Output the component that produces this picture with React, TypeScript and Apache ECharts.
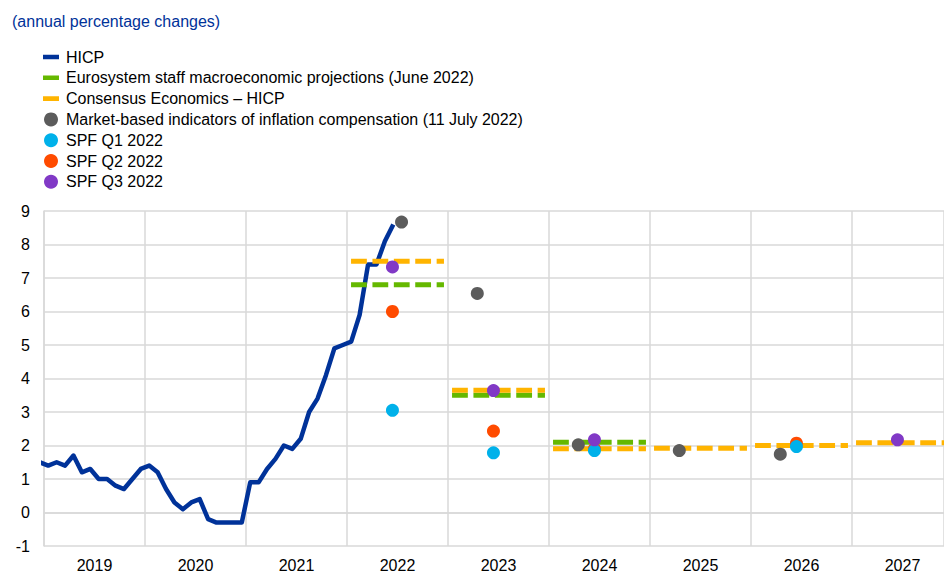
import React, { useEffect, useRef } from 'react';
import * as echarts from 'echarts';

const FONT = '"Liberation Sans", Arial, sans-serif';

const titleText = '(annual percentage changes)';

const seriesNames = [
  'HICP',
  'Eurosystem staff macroeconomic projections (June 2022)',
  'Consensus Economics – HICP',
  'Market-based indicators of inflation compensation (11 July 2022)',
  'SPF Q1 2022',
  'SPF Q2 2022',
  'SPF Q3 2022',
];

const colors = ['#003299', '#65b800', '#ffb400', '#5c5c5c', '#00b1ea', '#ff4b00', '#8139c6'];

// HICP monthly, Dec 2018 .. Jun 2022
const hicpFirstMonth = { year: 2018, month: 12 };
const hicpValues = [
  1.5,
  1.4, 1.5, 1.4, 1.7, 1.2, 1.3, 1.0, 1.0, 0.8, 0.7, 1.0, 1.3,
  1.4, 1.2, 0.7, 0.3, 0.1, 0.3, 0.4, -0.2, -0.3, -0.3, -0.3, -0.3,
  0.9, 0.9, 1.3, 1.6, 2.0, 1.9, 2.2, 3.0, 3.4, 4.1, 4.9, 5.0,
  5.1, 5.9, 7.4, 7.4, 8.1, 8.6,
];

// Eurosystem staff projections (June 2022)
const eurosystemYears = [2022, 2023, 2024];
const eurosystemValues = [6.8, 3.5, 2.1];

// Consensus Economics
const consensusYears = [2022, 2023, 2024, 2025, 2026, 2027];
const consensusValues = [7.5, 3.65, 1.9, 1.92, 2.0, 2.08];

// Market-based indicators (x in fractional years)
const marketDates = [2022.54, 2023.29, 2024.29, 2025.29, 2026.29];
const marketValues = [8.67, 6.54, 2.02, 1.85, 1.74];

// SPF rounds
const spfQ1Years = [2022, 2023, 2024, 2026];
const spfQ1Values = [3.05, 1.78, 1.85, 1.97];
const spfQ2Years = [2022, 2023, 2024, 2026];
const spfQ2Values = [6.0, 2.43, 1.9, 2.07];
const spfQ3Years = [2022, 2023, 2024, 2027];
const spfQ3Values = [7.33, 3.64, 2.17, 2.17];

const yearLabels = [2019, 2020, 2021, 2022, 2023, 2024, 2025, 2026, 2027];

const X_MIN = 2019;
const X_MAX = 2019 + 900 / 101;
const SEG_START = 0.04;
const SEG_END = 0.96;
const SPF_OFFSET = 0.45;

// bar icon (16 x 4.6) inside a 16 x 14 box, via zero-area guide subpaths
const BAR_ICON = 'path://M0,0L16,0L16,0ZM0,4.7L16,4.7L16,9.3L0,9.3ZM0,14L16,14L16,14Z';

function segments(years: number[], values: number[]) {
  const out: any[] = [];
  years.forEach((y, i) => {
    out.push([y + SEG_START, values[i]]);
    out.push([y + SEG_END, values[i]]);
    out.push([y + SEG_END + 0.01, '-']);
  });
  return out;
}

function hicpData() {
  return hicpValues.map((v, i) => {
    const m = hicpFirstMonth.month - 1 + i;
    const x = hicpFirstMonth.year + (m + 0.5) / 12;
    return [x, v];
  });
}

export default function App() {
  const ref = useRef<HTMLDivElement>(null);
  useEffect(() => {
    if (!ref.current) return;
    const chart = echarts.init(ref.current, undefined, { renderer: 'svg' });
    const dash = [15.8, 5.6];
    const legendData = seriesNames.map((name, i) =>
      i < 3 ? { name, icon: BAR_ICON } : { name, icon: 'circle' }
    );
    const option: any = {
      animation: false,
      title: {
        text: titleText,
        left: 12,
        top: 13,
        padding: 0,
        textStyle: { fontFamily: FONT, fontSize: 16, fontWeight: 'normal', color: '#003299' },
      },
      legend: {
        orient: 'vertical',
        left: 43,
        top: 49,
        padding: 0,
        itemWidth: 16,
        itemHeight: 14,
        itemGap: 4.8,
        data: legendData,
        itemStyle: { borderWidth: 0 },
        textStyle: { fontFamily: FONT, fontSize: 16, color: '#000', padding: [0, 0, 0, 2] },
        selectedMode: false,
      },
      grid: { left: 44, right: 0, top: 211, bottom: 25, containLabel: false },
      xAxis: {
        type: 'value',
        min: X_MIN,
        max: X_MAX,
        interval: 1,
        axisLine: { show: true, lineStyle: { color: '#d9d9d9', width: 1.5 } },
        axisTick: { show: false },
        splitLine: { show: true, lineStyle: { color: '#d9d9d9', width: 1.5 } },
        axisLabel: {
          fontFamily: FONT,
          fontSize: 16,
          color: '#000',
          margin: 11,
          padding: [0, 0, 0, 101],
          showMaxLabel: false,
          formatter: (v: number) =>
            yearLabels.indexOf(Math.round(v)) >= 0 && Math.abs(v - Math.round(v)) < 1e-6
              ? String(Math.round(v))
              : '',
        },
      },
      yAxis: {
        type: 'value',
        min: -1,
        max: 9,
        interval: 1,
        axisLine: { show: true, lineStyle: { color: '#d9d9d9', width: 1.5 } },
        axisTick: { show: false },
        splitLine: { show: true, lineStyle: { color: '#d9d9d9', width: 1.5 } },
        axisLabel: { fontFamily: FONT, fontSize: 16, color: '#000', margin: 14 },
      },
      series: [
        {
          name: seriesNames[0],
          type: 'line',
          data: hicpData(),
          symbol: 'none',
          color: colors[0],
          itemStyle: { color: colors[0] },
          lineStyle: { color: colors[0], width: 4.5, join: 'round' },
          z: 2,
        },
        {
          name: seriesNames[1],
          type: 'line',
          data: segments(eurosystemYears, eurosystemValues),
          symbol: 'none',
          connectNulls: false,
          color: colors[1],
          itemStyle: { color: colors[1] },
          lineStyle: { color: colors[1], width: 5, type: dash, cap: 'butt' },
          z: 2,
        },
        {
          name: seriesNames[2],
          type: 'line',
          data: segments(consensusYears, consensusValues),
          symbol: 'none',
          connectNulls: false,
          color: colors[2],
          itemStyle: { color: colors[2] },
          lineStyle: { color: colors[2], width: 5, type: dash, cap: 'butt' },
          z: 2,
        },
        {
          name: seriesNames[3],
          type: 'scatter',
          data: marketDates.map((d, i) => [d, marketValues[i]]),
          symbol: 'circle',
          symbolSize: 13,
          itemStyle: { color: colors[3], opacity: 1 },
          z: 3,
        },
        {
          name: seriesNames[5],
          type: 'scatter',
          data: spfQ2Years.map((y, i) => [y + SPF_OFFSET, spfQ2Values[i]]),
          symbol: 'circle',
          symbolSize: 13,
          itemStyle: { color: colors[5], opacity: 1 },
          z: 3,
        },
        {
          name: seriesNames[4],
          type: 'scatter',
          data: spfQ1Years.map((y, i) => [y + SPF_OFFSET, spfQ1Values[i]]),
          symbol: 'circle',
          symbolSize: 13,
          itemStyle: { color: colors[4], opacity: 1 },
          z: 4,
        },
        {
          name: seriesNames[6],
          type: 'scatter',
          data: spfQ3Years.map((y, i) => [y + SPF_OFFSET, spfQ3Values[i]]),
          symbol: 'circle',
          symbolSize: 13,
          itemStyle: { color: colors[6], opacity: 1 },
          z: 5,
        },
      ],
    };
    chart.setOption(option);
    return () => chart.dispose();
  }, []);
  return (
    <div
      ref={ref}
      style={{ position: 'absolute', left: 0, top: 0, width: 944, height: 573, background: '#fff' }}
    />
  );
}
